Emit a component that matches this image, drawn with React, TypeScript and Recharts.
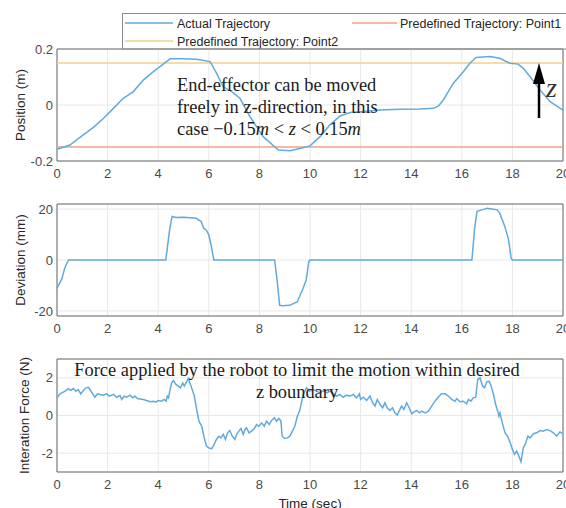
import React from 'react';
import { LineChart, Line, XAxis, YAxis, CartesianGrid, ReferenceLine, ReferenceArea } from 'recharts';

// time axis shared by all three panels
const TIME_TICKS = [0, 2, 4, 6, 8, 10, 12, 14, 16, 18, 20];

// panel 1: position (m)
const POS_TIME = [
  0, 0.51, 1.04, 1.44, 1.83, 2.23, 2.62, 3.02, 3.41, 3.81,
  4.2, 4.47, 4.99, 5.52, 6.05, 6.31, 6.57, 6.9, 7.23, 7.63,
  8.15, 8.75, 9.21, 9.6, 10.0, 10.4, 10.79, 11.19, 11.58, 11.98,
  12.77, 13.56, 14.35, 14.88, 15.07, 15.27, 15.66, 16.06, 16.32, 16.56,
  17.11, 17.5, 17.9, 18.23, 18.43, 18.7, 19.09, 19.49, 20,
];
const POS_VALUE = [
  -0.158, -0.143, -0.107, -0.08, -0.048, -0.012, 0.024, 0.048, 0.089, 0.119,
  0.146, 0.165, 0.165, 0.163, 0.155, 0.113, 0.065, 0.048, 0.024, -0.042,
  -0.113, -0.161, -0.163, -0.155, -0.146, -0.113, -0.071, -0.039, -0.027, -0.024,
  -0.018, -0.015, -0.014, -0.012, -0.004, 0.018, 0.077, 0.119, 0.149, 0.17,
  0.173, 0.167, 0.149, 0.146, 0.131, 0.101, 0.054, 0.012, -0.018,
];
const POINT1_Z = -0.15;
const POINT2_Z = 0.15;
const POS_TICKS = [-0.2, 0, 0.2];

// panel 2: deviation (mm)
const DEV_TIME = [
  0, 0.1, 0.2, 0.3, 0.45, 4.3, 4.45, 4.55, 4.7, 5.0,
  5.5, 5.7, 5.8, 5.9, 6.0, 6.1, 6.2, 8.6, 8.7, 8.8,
  8.9, 9.2, 9.5, 9.7, 9.85, 9.95, 10.0, 16.4, 16.5, 16.6,
  16.8, 17.0, 17.4, 17.5, 17.7, 17.85, 17.95, 18.0, 20,
];
const DEV_VALUE = [
  -11.2, -9.2, -7.2, -3.3, 0, 0, 11.8, 17.1, 16.7, 16.8,
  16.4, 15.1, 12.5, 11.8, 9.9, 5.3, 0, 0, -7.9, -17.8,
  -18, -17.8, -16.4, -11.8, -7.9, -0.7, 0, 0, 11.8, 19.1,
  19.7, 20.3, 19.7, 18.4, 13.2, 7.9, 0.7, 0, 0,
];
const DEV_TICKS = [-20, 0, 20];

// panel 3: interaction force (N)
const FORCE_TIME = [
  0, 0.12, 0.32, 0.45, 0.54, 0.65, 0.75, 0.84, 0.94, 1.04,
  1.15, 1.24, 1.3, 1.41, 1.5, 1.6, 1.7, 1.83, 1.96, 2.07,
  2.23, 2.36, 2.49, 2.56, 2.65, 2.75, 2.89, 2.99, 3.08, 3.18,
  3.28, 3.41, 3.54, 3.68, 3.81, 3.91, 4.0, 4.14, 4.23, 4.31,
  4.36, 4.41, 4.47, 4.53, 4.6, 4.7, 4.8, 4.88, 4.97, 5.03,
  5.19, 5.32, 5.43, 5.52, 5.61, 5.72, 5.82, 5.91, 6.0, 6.11,
  6.21, 6.3, 6.4, 6.48, 6.57, 6.66, 6.74, 6.83, 6.93, 7.03,
  7.11, 7.19, 7.27, 7.36, 7.43, 7.49, 7.59, 7.69, 7.8, 7.89,
  7.98, 8.09, 8.19, 8.28, 8.39, 8.48, 8.59, 8.68, 8.77, 8.85,
  8.9, 9.0, 9.11, 9.2, 9.29, 9.4, 9.5, 9.6, 9.73, 9.86,
  9.99, 10.13, 10.26, 10.39, 10.53, 10.66, 10.79, 10.92, 11.05, 11.18,
  11.31, 11.45, 11.58, 11.71, 11.84, 11.95, 12.0, 12.11, 12.24, 12.37,
  12.48, 12.57, 12.66, 12.77, 12.87, 12.96, 13.05, 13.16, 13.26, 13.35,
  13.45, 13.52, 13.62, 13.71, 13.82, 13.92, 14.02, 14.11, 14.22, 14.32,
  14.41, 14.55, 14.68, 14.81, 14.94, 15.07, 15.2, 15.34, 15.47, 15.6,
  15.73, 15.8, 15.93, 16.06, 16.19, 16.26, 16.36, 16.45, 16.55, 16.63,
  16.72, 16.82, 16.9, 16.99, 17.08, 17.16, 17.25, 17.34, 17.42, 17.47,
  17.51, 17.6, 17.71, 17.81, 17.9, 18.0, 18.08, 18.17, 18.26, 18.34,
  18.43, 18.53, 18.61, 18.7, 18.83, 18.96, 19.09, 19.22, 19.36, 19.49,
  19.62, 19.75, 19.88, 20,
];
const FORCE_VALUE = [
  0.94, 1.15, 1.29, 1.42, 1.33, 1.43, 1.29, 1.38, 1.15, 1.33,
  1.47, 1.5, 1.38, 1.15, 0.97, 1.15, 1.12, 1.08, 1.15, 1.03,
  1.12, 0.97, 1.06, 0.85, 1.03, 0.97, 1.08, 0.94, 1.03, 0.9,
  0.88, 0.85, 0.8, 0.73, 0.76, 0.71, 0.8, 0.76, 0.85, 0.76,
  1.03, 0.94, 1.38, 1.73, 1.86, 1.65, 1.56, 1.47, 1.73, 1.56,
  1.96, 1.47, 1.03, 0.32, -0.3, -0.57, -1.19, -1.63, -1.72, -1.77,
  -1.54, -1.27, -1.1, -1.19, -1.0, -1.27, -0.92, -0.8, -1.1, -1.27,
  -0.97, -0.83, -0.69, -1.0, -0.74, -0.65, -0.92, -0.83, -0.69, -0.48,
  -0.57, -0.39, -0.57, -0.3, -0.48, -0.27, -0.12, -0.3, -0.16, -0.3,
  -1.1, -1.22, -1.19, -1.1, -0.87, -0.57, -0.04, 0.3, 1.1, 1.47,
  1.29, 1.38, 1.29, 1.2, 1.33, 1.2, 1.29, 1.15, 1.03, 1.12,
  0.97, 1.08, 1.03, 1.12, 0.94, 1.15, 0.85, 0.97, 0.8, 1.03,
  0.67, 0.5, 0.85, 0.58, 0.41, 0.67, 0.41, 0.27, 0.41, 0.14,
  0.02, 0.23, 0.5, 0.32, 0.67, 0.41, 0.09, 0.19, 0.27, 0.14,
  0.23, 0.14, 0.23, 0.5, 0.76, 0.97, 1.15, 1.15, 1.03, 0.85,
  0.76, 0.9, 0.73, 0.76, 0.62, 0.85, 0.76, 0.94, 0.97, 1.91,
  2.0, 1.56, 1.47, 1.79, 1.82, 1.56, 1.12, 0.58, 0.23, -0.04,
  0.14, -0.39, -0.92, -1.1, -1.4, -1.8, -2.07, -1.89, -2.16, -2.46,
  -1.72, -1.45, -1.1, -1.19, -0.97, -0.92, -0.8, -0.83, -0.74, -0.8,
  -0.92, -1.1, -0.87, -0.97,
];
const FORCE_TICKS = [-2, 0, 2];

const LEGEND_NAMES = ['Actual Trajectory', 'Predefined Trajectory: Point1', 'Predefined Trajectory: Point2'];

const BLUE = '#62aadd';
const RED = '#f3a184';
const YELLOW = '#f2cf8c';
const GRID = '#e8e8e8';
const FRAME = '#6b6b6b';
const TICK = '#4a4a4a';
const FONT = '"Liberation Sans", Arial, sans-serif';
const SERIF = '"Liberation Serif", "Times New Roman", serif';

const toRows = (t: number[], v: number[]) => t.map((x, i) => ({ t: x, v: v[i] }));

function Panel({ top, plotHeight, rows, domain, yTicks, yLabel, labelX, xLabel, children }: any) {
  const mTop = 10;
  return (
    <div style={{ position: 'absolute', left: 0, top: top - mTop }}>
      <LineChart
        width={566}
        height={plotHeight + mTop + 40}
        data={rows}
        margin={{ top: mTop, right: 3, bottom: 0, left: 17 }}
      >
        <CartesianGrid stroke={GRID} />
        <XAxis
          type="number"
          dataKey="t"
          domain={[0, 20]}
          ticks={TIME_TICKS}
          interval={0}
          height={40}
          axisLine={false}
          tickLine={false}
          tickSize={4}
          tickMargin={4}
          tick={{ fontSize: 13, fill: TICK }}
          label={
            xLabel
              ? { value: xLabel, position: 'insideBottom', offset: 4, style: { fontSize: 13.5, fill: '#262626' } }
              : undefined
          }
        />
        <YAxis
          type="number"
          domain={domain}
          ticks={yTicks}
          interval={0}
          width={40}
          allowDataOverflow
          axisLine={false}
          tickLine={false}
          tickSize={2}
          tickMargin={2}
          tick={{ fontSize: 13, fill: TICK }}
          label={{
            value: yLabel,
            angle: -90,
            position: 'insideLeft',
            offset: labelX - 17,
            style: { textAnchor: 'middle', fontSize: 13.5, fill: '#262626' },
          }}
        />
        {children}
        <Line type="linear" dataKey="v" stroke={BLUE} strokeWidth={1.5} dot={false} isAnimationActive={false} />
        <ReferenceArea x1={0} x2={20} y1={domain[0]} y2={domain[1]} fill="none" stroke={FRAME} strokeWidth={1} ifOverflow="visible" />
      </LineChart>
    </div>
  );
}

export default function App() {
  return (
    <div style={{ position: 'absolute', left: 0, top: 0, width: 566, height: 508, overflow: 'hidden', background: '#fff', fontFamily: FONT }}>
      <svg width={566} height={60} style={{ position: 'absolute', left: 0, top: 0 }}>
        <rect x={122.5} y={13.5} width={460} height={35.5} fill="#fff" stroke="#8a8a8a" />
        <line x1={125} x2={173} y1={23} y2={23} stroke={BLUE} strokeWidth={1.5} />
        <text x={177} y={27.5} fontSize={12.5} fill="#262626">{LEGEND_NAMES[0]}</text>
        <line x1={352} x2={397} y1={23} y2={23} stroke={RED} strokeWidth={1.5} />
        <text x={400} y={27.5} fontSize={12.5} fill="#262626">{LEGEND_NAMES[1]}</text>
        <line x1={125} x2={173} y1={41} y2={41} stroke={YELLOW} strokeWidth={1.5} />
        <text x={177} y={45.5} fontSize={12.5} fill="#262626">{LEGEND_NAMES[2]}</text>
      </svg>

      <Panel top={49} plotHeight={112} rows={toRows(POS_TIME, POS_VALUE)} domain={[-0.2, 0.2]} yTicks={POS_TICKS} yLabel="Position (m)" labelX={20}>
        <ReferenceLine y={POINT1_Z} stroke={RED} strokeWidth={1.5} />
        <ReferenceLine y={POINT2_Z} stroke={YELLOW} strokeWidth={1.5} />
      </Panel>
      <Panel top={204} plotHeight={112} rows={toRows(DEV_TIME, DEV_VALUE)} domain={[-22, 22]} yTicks={DEV_TICKS} yLabel="Deviation (mm)" labelX={20} />
      <Panel top={359} plotHeight={113} rows={toRows(FORCE_TIME, FORCE_VALUE)} domain={[-3, 3]} yTicks={FORCE_TICKS} yLabel="Interation Force (N)" labelX={24} xLabel="Time (sec)" />

      <svg width={566} height={508} style={{ position: 'absolute', left: 0, top: 0, pointerEvents: 'none' }}>
        <g fontFamily={SERIF} fontSize={18.4} fill="#1a1a1a">
          <text x={177} y={91}>End-effector can be moved</text>
          <text x={177} y={113}>freely in z-direction, in this</text>
          <text x={177} y={135}>
            case −0.15<tspan fontStyle="italic">m</tspan> &lt; <tspan fontStyle="italic">z</tspan> &lt; 0.15<tspan fontStyle="italic">m</tspan>
          </text>
          <text x={297} y={376} textAnchor="middle">Force applied by the robot to limit the motion within desired</text>
          <text x={297} y={398} textAnchor="middle">z boundary</text>
        </g>
        <line x1={539} x2={539} y1={118} y2={80} stroke="#000" strokeWidth={2.5} />
        <polygon points="539,63 533,84 545,84" fill="#000" />
        <text x={546} y={97} fontFamily={SERIF} fontStyle="italic" fontSize={28} fill="#333">z</text>
      </svg>
    </div>
  );
}
